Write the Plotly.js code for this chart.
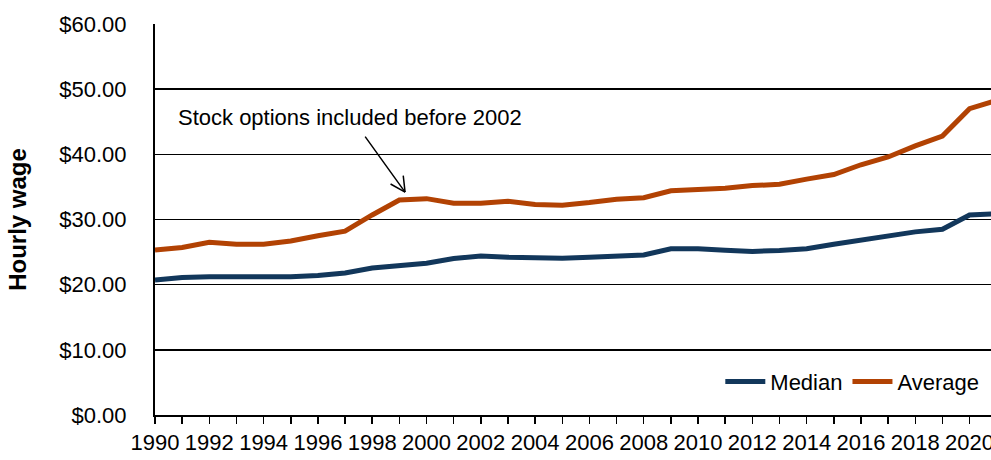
<!DOCTYPE html>
<html>
<head>
<meta charset="utf-8">
<script src="https://cdn.plot.ly/plotly-3.0.1.min.js"></script>
<style>html,body{margin:0;padding:0;background:#fff;}#chart{width:991px;height:460px;}</style>
</head>
<body>
<div id="chart"></div>
<script>
const years = [1990,1991,1992,1993,1994,1995,1996,1997,1998,1999,2000,2001,2002,2003,2004,2005,2006,2007,2008,2009,2010,2011,2012,2013,2014,2015,2016,2017,2018,2019,2020,2021];
const median = [20.7,21.1,21.2,21.2,21.1,21.2,21.4,21.8,22.55,22.9,23.3,24.0,24.4,24.2,24.05,24.05,24.2,24.45,24.55,25.5,25.5,25.3,25.1,25.25,25.5,26.2,26.85,27.5,28.1,28.5,30.7,30.9];
const average = [25.3,25.7,26.5,26.2,26.2,26.7,27.5,28.2,30.7,33.0,33.2,32.5,32.5,32.8,32.3,32.2,32.6,33.1,33.35,34.4,34.6,34.8,35.2,35.4,36.2,36.9,38.4,39.6,41.3,42.8,47.0,48.3];
const yTicks = [0,10,20,30,40,50,60];
const yTickText = ["$0.00","$10.00","$20.00","$30.00","$40.00","$50.00","$60.00"];
const noteText = "Stock options included before 2002";

const FONT = "Liberation Sans, Arial, sans-serif";
const traces = [
  {x: years, y: median, name: "Median", type: "scatter", mode: "lines",
   line: {color: "#12375B", width: 5}},
  {x: years, y: average, name: "Average", type: "scatter", mode: "lines",
   line: {color: "#B24203", width: 5}}
];
const layout = {
  width: 991, height: 460,
  margin: {l: 155, r: 0, t: 24, b: 45},
  paper_bgcolor: "#fff", plot_bgcolor: "#fff",
  font: {family: FONT, size: 22, color: "#000"},
  showlegend: true,
  legend: {orientation: "h", x: 0.992, xanchor: "right", y: 0.085, yanchor: "middle",
           bgcolor: "rgba(0,0,0,0)", font: {family: FONT, size: 22, color: "#000"},
           itemwidth: 40, tracegroupgap: 0},
  xaxis: {range: [1990, 2020.79], tickmode: "linear", tick0: 1990, dtick: 2,
          ticks: "outside", ticklen: 7, tickwidth: 1.5, tickcolor: "#000",
          minor: {tickmode: "linear", tick0: 1990, dtick: 1, ticks: "outside", ticklen: 7, tickwidth: 1.5, tickcolor: "#000", showgrid: false},
          showgrid: false, zeroline: false, showline: true, linecolor: "#000", linewidth: 2,
          ticklabeloverflow: "allow",
          tickfont: {family: FONT, size: 22, color: "#000"}, fixedrange: true},
  yaxis: {range: [0, 60], tickmode: "array", tickvals: yTicks, ticktext: yTickText,
          showgrid: true, gridcolor: "#000", gridwidth: 1.6, zeroline: false,
          showline: true, linecolor: "#000", linewidth: 2, ticks: "", ticklabelstandoff: 22,
          tickfont: {family: FONT, size: 22, color: "#000"},
          title: {text: "<b>Hourly wage</b>", font: {family: FONT, size: 24, color: "#000"}, standoff: 26},
          fixedrange: true},
  annotations: [
    {x: 1997.18, y: 45.6, xref: "x", yref: "y", text: noteText, showarrow: false,
     font: {family: FONT, size: 22, color: "#000"}},
    {x: 1999.21, y: 34.2, xref: "x", yref: "y", text: "", showarrow: true, arrowhead: 0,
     arrowwidth: 1.5, arrowcolor: "#000", ax: -41, ay: -57, standoff: 0, startstandoff: 0},
    {x: 1999.21, y: 34.2, xref: "x", yref: "y", text: "", showarrow: true, arrowhead: 0,
     arrowwidth: 1.5, arrowcolor: "#000", ax: -16, ay: -9, standoff: 0, startstandoff: 0},
    {x: 1999.21, y: 34.2, xref: "x", yref: "y", text: "", showarrow: true, arrowhead: 0,
     arrowwidth: 1.5, arrowcolor: "#000", ax: -2, ay: -18, standoff: 0, startstandoff: 0}
  ]
};
Plotly.newPlot("chart", traces, layout, {displayModeBar: false, staticPlot: true});
</script>
</body>
</html>
